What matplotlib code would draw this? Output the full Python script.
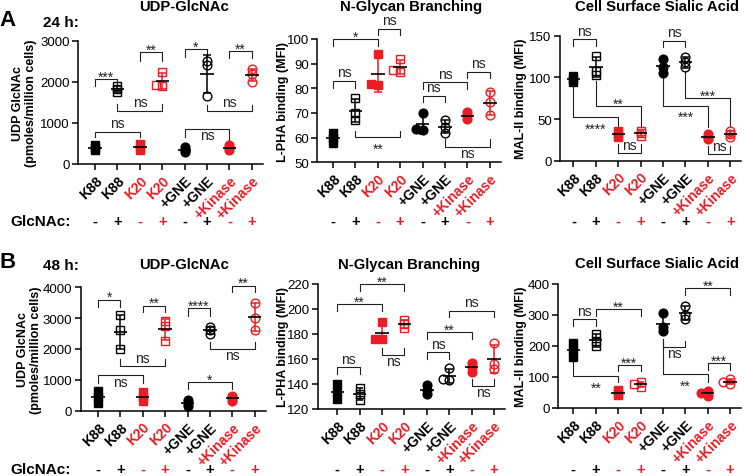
import numpy as np
import matplotlib
matplotlib.use('Agg')
import matplotlib.pyplot as plt
from matplotlib import transforms

plt.rcParams['font.family'] = ['Liberation Sans', 'DejaVu Sans']

W, H = 745, 477
RED = '#ec1c24'

groups = ['K88', 'K88', 'K20', 'K20', '+GNE', '+GNE', '+Kinase', '+Kinase']
glcnac = ['-', '+', '-', '+', '-', '+', '-', '+']
group_colors = ['black', 'black', RED, RED, 'black', 'black', RED, RED]
group_markers = ['s', 's', 's', 's', 'o', 'o', 'o', 'o']
group_filled = [True, False, True, False, True, False, True, False]

# 24 h, three replicates per group
udp_24h = [[330, 400, 470], [1750, 1820, 1890], [350, 420, 490], [2250, 1900, 1920],
           [280, 350, 420], [2500, 2400, 1650], [330, 400, 470], [2300, 2200, 2000]]
lpha_24h = [[58, 60, 62], [76, 67, 70], [94, 81.4, 81.6], [92, 86.7, 87.4],
            [70, 63, 63.5], [67, 64.5, 62], [70.2, 69, 67.6], [78.5, 74.5, 69]]
mal_24h = [[95, 98.5, 102], [126, 103, 108], [28.8, 32, 35.2], [36.2, 33, 29.8],
           [122, 113, 105], [125, 118, 112], [25.8, 29, 32.2], [35.2, 32, 28.8]]

# 48 h
udp_48h = [[650, 450, 250], [3100, 2600, 2000], [600, 450, 300], [2900, 2750, 2250],
           [160, 250, 340], [2700, 2600, 2500], [310, 400, 490], [3500, 3000, 2600]]
lpha_48h = [[140, 134, 128], [137, 132, 127], [190, 176, 176], [191, 188, 185],
            [139, 135, 132], [153, 143, 144], [157, 154, 150], [173, 152, 156]]
mal_48h = [[210, 188, 166], [240, 215, 200], [41, 50, 59], [69, 77, 85],
           [306, 249, 262], [330, 300, 288], [39, 47, 55], [77, 85, 93]]

# significance brackets: group i, group j, line y, leg end at i, leg end at j, label, side
sig_udp_24h = [(0, 1, 2068, 1890, 1890, '***', 'above'),
               (2, 3, 2716, 2514, 2514, '**', 'above'),
               (4, 5, 2800, 2600, 2600, '*', 'above'),
               (6, 7, 2750, 2590, 2590, '**', 'above'),
               (1, 3, 1297, 1460, 1460, 'ns', 'above'),
               (5, 7, 1297, 1440, 1440, 'ns', 'above'),
               (0, 2, 790, 650, 650, 'ns', 'above'),
               (4, 6, 850, 650, 580, 'ns', 'below')]
sig_lpha_24h = [(0, 2, 100, 97.3, 97.3, '*', 'above'),
                (2, 3, 104.2, 101.6, 101.6, 'ns', 'above'),
                (0, 1, 83.1, 80, 80, 'ns', 'above'),
                (1, 3, 60.1, 62.8, 62.8, '**', 'below'),
                (4, 6, 82.4, 79.7, 79.7, 'ns', 'above'),
                (6, 7, 86.7, 84, 84, 'ns', 'above'),
                (4, 5, 77, 74.3, 74.3, 'ns', 'above'),
                (5, 7, 56.4, 59.5, 59.5, 'ns', 'below')]
sig_mal_24h = [(0, 1, 146, 138, 138, 'ns', 'above'),
               (4, 5, 144, 136, 136, 'ns', 'above'),
               (0, 2, 52, 88, 39, '****', 'below'),
               (1, 3, 66, 96, 40, '**', 'above'),
               (4, 6, 66, 100, 40, '***', 'below'),
               (5, 7, 75, 107, 42, '***', 'above'),
               (2, 3, 9, 20, 20, 'ns', 'above'),
               (6, 7, 8, 18, 18, 'ns', 'above')]
sig_udp_48h = [(0, 1, 3603, 3355, 3355, '*', 'above'),
               (2, 3, 3408, 3193, 3193, '**', 'above'),
               (4, 5, 3323, 3084, 3084, '****', 'above'),
               (6, 7, 4055, 3840, 3840, '**', 'above'),
               (1, 3, 1446, 1683, 1683, 'ns', 'above'),
               (5, 7, 2006, 2222, 2222, 'ns', 'below'),
               (0, 2, 1143, 906, 906, 'ns', 'below'),
               (4, 6, 929, 712, 712, '*', 'above')]
sig_lpha_48h = [(0, 2, 204, 198.7, 198.7, '**', 'above'),
                (1, 3, 220, 214.7, 214.7, '**', 'above'),
                (0, 1, 153.3, 148, 148, 'ns', 'above'),
                (2, 3, 163.2, 168.5, 168.5, 'ns', 'below'),
                (5, 7, 198.7, 193.3, 193.3, 'ns', 'above'),
                (4, 6, 181.3, 176, 176, '**', 'above'),
                (4, 5, 165.3, 160, 160, 'ns', 'above'),
                (6, 7, 138.1, 144, 144, 'ns', 'below')]
sig_mal_48h = [(0, 1, 287, 266, 266, 'ns', 'above'),
               (1, 3, 319, 296, 296, '**', 'above'),
               (5, 7, 386, 364, 364, '**', 'above'),
               (2, 3, 139, 120, 120, '***', 'above'),
               (6, 7, 144, 124, 124, '***', 'above'),
               (0, 2, 104, 174, 83, '**', 'below'),
               (4, 6, 110, 222, 83, '**', 'below'),
               (4, 5, 196, 217, 217, 'ns', 'below')]

titles = ['UDP-GlcNAc', 'N-Glycan Branching', 'Cell Surface Sialic Acid']
ylabels = ['UDP GlcNAc\n(pmoles/million cells)', 'L-PHA binding (MFI)', 'MAL-II binding (MFI)']

# panel: values, brackets, y limits, y tick step
panels = [
    (udp_24h, sig_udp_24h, (0, 3000), 1000),
    (lpha_24h, sig_lpha_24h, (50, 100), 10),
    (mal_24h, sig_mal_24h, (0, 150), 50),
    (udp_48h, sig_udp_48h, (0, 4000), 1000),
    (lpha_48h, sig_lpha_48h, (120, 220), 20),
    (mal_48h, sig_mal_48h, (0, 400), 100),
]

# pixel layout: y-axis x, top, bottom, left x-limit, y-label right edge
layout = [
    (78.3, 41.7, 165.0, -0.75, 37),
    (317.3, 40.0, 163.3, -0.70, 289),
    (560.0, 36.7, 161.7, -0.60, 527),
    (80.5, 288.3, 411.7, -0.78, 42),
    (318.0, 285.0, 410.0, -0.86, 289),
    (558.3, 285.0, 409.0, -0.67, 527),
]

UNIT = 22.4  # px per category


def swarm(vals, px_per_y, step=0.3, d=2.5):
    # spread only points that sit on top of each other
    placed = []
    offs = [0.0] * len(vals)
    for k in np.argsort(vals):
        y = vals[k]
        for cand in [0, -step, step, -2 * step, 2 * step]:
            ok = True
            for px, py in placed:
                dx = (cand - px) * UNIT
                dy = (y - py) * px_per_y
                if dx * dx + dy * dy < d * d:
                    ok = False
                    break
            if ok:
                break
        offs[k] = cand
        placed.append((cand, y))
    return offs


# text offsets (pt) for bracket labels, by kind and side
label_off = {('ns', 'above'): 6.0, ('ns', 'below'): -4.4,
             ('*', 'above'): 1.7, ('*', 'below'): -8.3}

fig = plt.figure(figsize=(W / 100, H / 100), dpi=100)

for p, ((vals, brackets, ylim, step), (lx, top, bot, xl, lab_r)) in enumerate(zip(panels, layout)):
    width = (7.5 - xl) * UNIT
    ax = fig.add_axes([lx / W, 1 - bot / H, width / W, (bot - top) / H])
    ax.set_xlim(xl, 7.5)
    ax.set_ylim(*ylim)
    px_per_y = (bot - top) / (ylim[1] - ylim[0])

    for i, v in enumerate(vals):
        c = group_colors[i]
        offs = swarm(v, px_per_y)
        ax.plot(np.array(offs) + i, v, linestyle='none', marker=group_markers[i], ms=6.3,
                mec=c, mew=1.0, mfc=c if group_filled[i] else 'none', zorder=2, clip_on=False)
        m = np.mean(v)
        sd = np.std(v, ddof=1)
        ax.vlines(i, m - sd, m + sd, color=c, lw=1.1, zorder=3)
        ax.hlines([m - sd, m + sd], i - 0.17, i + 0.17, color=c, lw=1.1, zorder=3)
        ax.hlines(m, i - 0.3, i + 0.3, color='black', lw=1.2, zorder=4)

    for i, j, y, yi, yj, lab, side in brackets:
        ax.plot([i, i, j, j], [yi, y, y, yj], color='#222222', lw=0.8, clip_on=False, zorder=1)
        kind = 'ns' if lab == 'ns' else '*'
        ax.annotate(lab, xy=((i + j) / 2, y), xytext=(0, label_off[(kind, side)]),
                    textcoords='offset points', ha='center', va='center', fontsize=10,
                    color='#222222', annotation_clip=False)

    ax.set_yticks(np.arange(ylim[0], ylim[1] + step / 2, step))
    ax.set_xticks(range(8))
    ax.set_xticklabels(groups, rotation=45, ha='right', rotation_mode='anchor',
                       fontsize=10, fontweight='bold')
    for lbl, c in zip(ax.get_xticklabels(), group_colors):
        lbl.set_color(c)
    ax.tick_params(axis='y', labelsize=9.5, length=4, width=1.1, pad=2)
    ax.tick_params(axis='x', length=4, width=1.1, pad=2.5)
    for s in ['top', 'right']:
        ax.spines[s].set_visible(False)
    for s in ['left', 'bottom']:
        ax.spines[s].set_linewidth(1.1)

    ax.set_ylabel(ylabels[p % 3], fontsize=9, fontweight='bold', linespacing=1.1)
    ax.yaxis.set_label_coords((lab_r - lx) / width, 0.5)

    # GlcNAc +/- row
    row_y = 222 if p < 3 else 470
    tr = transforms.blended_transform_factory(ax.transData, fig.transFigure)
    for i, s in enumerate(glcnac):
        ax.text(i, 1 - row_y / H, s, transform=tr, ha='center', va='center',
                fontsize=10.5, fontweight='bold', color=group_colors[i])

# titles
title_pos = [(184, 7), (411, 6.5), (657, 7), (184, 265), (409, 265), (657, 264)]
for k, (cx, cy) in enumerate(title_pos):
    fig.text(cx / W, 1 - cy / H, titles[k % 3], ha='center', va='center',
             fontsize=10.7, fontweight='bold')

fig.text(8 / W, 1 - 21 / H, 'A', ha='center', va='center', fontsize=16, fontweight='bold')
fig.text(8 / W, 1 - 262 / H, 'B', ha='center', va='center', fontsize=16, fontweight='bold')
fig.text(43 / W, 1 - 23 / H, '24 h:', ha='left', va='center', fontsize=11, fontweight='bold')
fig.text(43 / W, 1 - 266 / H, '48 h:', ha='left', va='center', fontsize=11, fontweight='bold')
fig.text(10 / W, 1 - 222 / H, 'GlcNAc:', ha='left', va='center', fontsize=11, fontweight='bold')
fig.text(10 / W, 1 - 470 / H, 'GlcNAc:', ha='left', va='center', fontsize=11, fontweight='bold')

fig.savefig('out.png', dpi=100)
